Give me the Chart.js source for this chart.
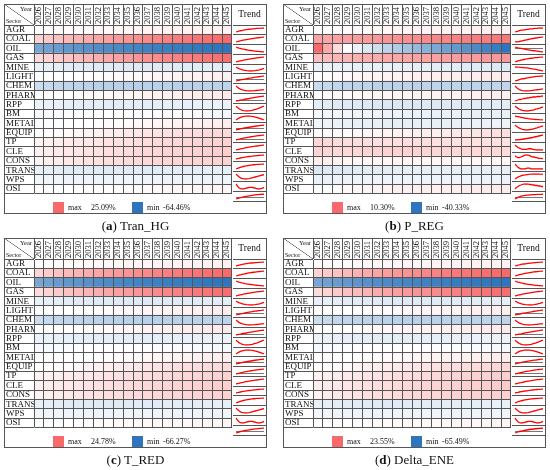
<!DOCTYPE html>
<html>
<head>
<meta charset="utf-8">
<script src="https://cdn.jsdelivr.net/npm/chart.js@4.4.1/dist/chart.umd.min.js"></script>
<style>
  body { margin: 0; background: #fff; font-family: "Liberation Serif", "Times New Roman", serif; color: #111; }
  #page { position: relative; width: 550px; height: 470px; overflow: hidden; }
  .panel { position: absolute; width: 263px; height: 240px; }
  .panel canvas { position: absolute; }
  .frame { position: absolute; left: 0; top: 0; width: 263px; height: 210px; border: 1px solid #555; box-sizing: border-box; }
  .corner { position: absolute; left: 0; top: 0; width: 30px; height: 21px;
    background: linear-gradient(to top right, transparent calc(50% - 0.6px), #555 50%, transparent calc(50% + 0.6px)); }
  .corner .yr { position: absolute; right: 2px; top: 1px; font-size: 6.5px; }
  .corner .sc { position: absolute; left: 2px; bottom: 1px; font-size: 6px; }
  .trendHead { position: absolute; left: 229px; top: 0; width: 33px; height: 21px; line-height: 21px; text-align: center; font-size: 9.5px; }
  .hline { position: absolute; left: 229px; width: 33px; height: 1px; background: #555; }
  .legend { position: absolute; left: 1px; top: 198px; width: 261px; height: 11px; font-size: 8px; line-height: 11px; }
  .legend span { position: absolute; top: 0; }
  .legend .sw { width: 11px; height: 11px; }
  .caption { position: absolute; left: 0; top: 213px; width: 263px; text-align: center; font-size: 13px; line-height: 18px; }
</style>
</head>
<body>
<div id="page"></div>
<script>
// 年份与部门
const years = ['2026', '2027', '2028', '2029', '2030', '2031', '2032', '2033', '2034', '2035',
               '2036', '2037', '2038', '2039', '2040', '2041', '2042', '2043', '2044', '2045'];
const sectors = ['AGR', 'COAL', 'OIL', 'GAS', 'MINE', 'LIGHT', 'CHEM', 'PHARM', 'RPP', 'BM',
                 'METAL', 'EQUIP', 'TP', 'CLE', 'CONS', 'TRANS', 'WPS', 'OSI'];
const panelTags = ['a', 'b', 'c', 'd'];
const panelNames = ['Tran_HG', 'P_REG', 'T_RED', 'Delta_ENE'];

// (a) Tran_HG, % change by sector (rows follow sectors)
const tranHG = [
  [0.3, 0.5, 0.7, 0.9, 1.0, 1.2, 1.3, 1.4, 1.5, 1.6, 1.7, 1.8, 1.8, 1.9, 2.0, 2.0, 2.1, 2.1, 2.2, 2.2],
  [7.5, 9.0, 10.4, 11.7, 12.9, 14.0, 15.1, 16.1, 17.0, 17.9, 18.8, 19.6, 20.4, 21.1, 21.8, 22.5, 23.2, 23.9, 24.5, 25.09],
  [-42.0, -44.5, -46.6, -48.5, -50.2, -51.7, -53.1, -54.4, -55.6, -56.7, -57.7, -58.7, -59.6, -60.4, -61.2, -61.9, -62.6, -63.3, -63.9, -64.46],
  [6.0, 7.4, 8.8, 10.1, 11.3, 12.5, 13.6, 14.7, 15.7, 16.7, 17.6, 18.5, 19.3, 20.1, 20.9, 21.6, 22.3, 23.0, 23.6, 24.2],
  [-7.0, -7.6, -8.1, -8.5, -8.8, -9.1, -9.3, -9.5, -9.6, -9.7, -9.7, -9.7, -9.6, -9.5, -9.3, -9.1, -8.9, -8.6, -8.3, -8.0],
  [-0.8, -0.6, -0.3, -0.1, 0.1, 0.3, 0.5, 0.7, 0.9, 1.1, 1.2, 1.4, 1.6, 1.8, 1.9, 2.1, 2.2, 2.4, 2.5, 2.6],
  [-16.0, -17.5, -18.7, -19.6, -20.3, -20.8, -21.2, -21.5, -21.7, -21.8, -21.8, -21.7, -21.6, -21.4, -21.2, -21.0, -20.8, -20.6, -20.4, -20.2],
  [-0.5, -0.3, -0.1, 0.2, 0.4, 0.6, 0.9, 1.1, 1.3, 1.5, 1.8, 2.0, 2.2, 2.4, 2.6, 2.8, 3.0, 3.2, 3.3, 3.5],
  [-6.0, -6.6, -7.1, -7.5, -7.8, -8.0, -8.1, -8.2, -8.2, -8.1, -8.0, -7.9, -7.7, -7.5, -7.3, -7.0, -6.8, -6.5, -6.2, -5.9],
  [-3.0, -2.4, -1.9, -1.5, -1.2, -1.0, -0.8, -0.7, -0.7, -0.7, -0.8, -0.9, -1.1, -1.3, -1.5, -1.8, -2.1, -2.4, -2.7, -3.0],
  [-1.2, -0.9, -0.6, -0.3, -0.1, 0.2, 0.4, 0.6, 0.8, 1.0, 1.2, 1.4, 1.6, 1.8, 2.0, 2.1, 2.3, 2.5, 2.6, 2.8],
  [-0.5, 0.0, 0.5, 1.0, 1.5, 2.0, 2.4, 2.8, 3.2, 3.6, 4.0, 4.3, 4.6, 4.9, 5.2, 5.5, 5.7, 6.0, 6.2, 6.4],
  [2.0, 2.4, 2.8, 3.2, 3.6, 3.9, 4.3, 4.6, 4.9, 5.2, 5.5, 5.8, 6.0, 6.3, 6.5, 6.7, 7.0, 7.2, 7.4, 7.6],
  [2.5, 3.0, 3.5, 3.9, 4.3, 4.7, 5.0, 5.4, 5.7, 6.0, 6.3, 6.5, 6.8, 7.0, 7.2, 7.4, 7.6, 7.8, 8.0, 8.1],
  [2.0, 2.7, 3.3, 3.8, 4.3, 4.7, 5.1, 5.4, 5.7, 6.0, 6.2, 6.4, 6.6, 6.8, 6.9, 7.0, 7.1, 7.2, 7.3, 7.4],
  [-7.0, -7.8, -8.4, -8.9, -9.2, -9.4, -9.5, -9.5, -9.4, -9.3, -9.1, -8.9, -8.7, -8.5, -8.3, -8.1, -7.9, -7.7, -7.5, -7.3],
  [-4.0, -4.5, -4.9, -5.1, -5.2, -5.2, -5.1, -5.0, -4.9, -4.8, -4.8, -4.8, -4.9, -5.0, -5.1, -5.2, -5.2, -5.1, -5.0, -4.8],
  [-0.6, -0.4, -0.2, 0.0, 0.1, 0.3, 0.4, 0.5, 0.6, 0.7, 0.8, 0.9, 1.0, 1.1, 1.2, 1.2, 1.3, 1.4, 1.4, 1.5]
];

// (b) P_REG
const pReg = [
  [0.1, 0.2, 0.3, 0.4, 0.5, 0.5, 0.6, 0.6, 0.7, 0.7, 0.8, 0.8, 0.8, 0.9, 0.9, 0.9, 1.0, 1.0, 1.0, 1.0],
  [6.4, 6.2, 6.3, 6.5, 6.7, 6.9, 7.1, 7.3, 7.5, 7.7, 7.9, 8.1, 8.3, 8.4, 8.6, 8.7, 8.9, 9.0, 9.1, 9.2],
  [10.30, 6.0, 2.4, -0.8, -3.8, -6.8, -9.7, -12.5, -15.2, -17.9, -20.5, -23.0, -25.4, -27.7, -29.9, -32.1, -34.2, -36.3, -38.3, -40.33],
  [4.3, 4.6, 4.9, 5.1, 5.3, 5.5, 5.7, 5.9, 6.0, 6.2, 6.3, 6.4, 6.5, 6.6, 6.7, 6.8, 6.9, 7.0, 7.0, 7.1],
  [-4.0, -4.0, -4.1, -4.1, -4.2, -4.3, -4.4, -4.5, -4.6, -4.7, -4.9, -5.0, -5.2, -5.3, -5.5, -5.7, -5.9, -6.1, -6.3, -6.5],
  [0.2, 0.3, 0.4, 0.5, 0.6, 0.7, 0.7, 0.8, 0.9, 0.9, 1.0, 1.0, 1.1, 1.1, 1.2, 1.2, 1.2, 1.3, 1.3, 1.3],
  [-10.5, -11.2, -11.8, -12.2, -12.5, -12.7, -12.8, -12.9, -12.9, -12.9, -12.8, -12.7, -12.6, -12.5, -12.4, -12.3, -12.2, -12.1, -12.0, -11.9],
  [0.1, 0.2, 0.3, 0.4, 0.4, 0.5, 0.6, 0.6, 0.7, 0.7, 0.8, 0.8, 0.9, 0.9, 0.9, 1.0, 1.0, 1.0, 1.1, 1.1],
  [-5.0, -5.4, -5.8, -6.1, -6.3, -6.5, -6.6, -6.7, -6.7, -6.7, -6.6, -6.5, -6.4, -6.3, -6.1, -6.0, -5.8, -5.7, -5.5, -5.4],
  [-2.0, -2.2, -2.4, -2.6, -2.8, -3.0, -3.2, -3.4, -3.5, -3.7, -3.8, -3.9, -4.0, -4.1, -4.2, -4.3, -4.3, -4.4, -4.4, -4.5],
  [-3.0, -3.4, -3.7, -4.0, -4.2, -4.4, -4.5, -4.6, -4.6, -4.6, -4.5, -4.4, -4.3, -4.2, -4.0, -3.9, -3.7, -3.6, -3.4, -3.3],
  [0.2, 0.2, 0.3, 0.3, 0.4, 0.5, 0.6, 0.7, 0.8, 0.9, 1.0, 1.1, 1.2, 1.4, 1.5, 1.6, 1.8, 1.9, 2.1, 2.2],
  [2.8, 2.6, 2.4, 2.3, 2.2, 2.1, 2.1, 2.1, 2.1, 2.2, 2.2, 2.2, 2.1, 2.1, 2.0, 2.0, 2.0, 2.0, 2.0, 2.0],
  [3.0, 2.8, 2.7, 2.7, 2.8, 2.9, 3.0, 3.1, 3.1, 3.1, 3.0, 2.9, 2.8, 2.8, 2.7, 2.7, 2.6, 2.6, 2.6, 2.5],
  [1.2, 1.0, 0.8, 0.7, 0.6, 0.6, 0.6, 0.6, 0.7, 0.7, 0.7, 0.6, 0.6, 0.6, 0.6, 0.6, 0.6, 0.6, 0.6, 0.6],
  [-7.0, -6.5, -6.1, -5.8, -5.5, -5.3, -5.1, -5.0, -4.9, -4.8, -4.7, -4.7, -4.6, -4.6, -4.6, -4.6, -4.6, -4.7, -4.7, -4.7],
  [-4.0, -3.7, -3.5, -3.3, -3.2, -3.1, -3.0, -3.0, -3.0, -3.0, -3.1, -3.1, -3.2, -3.2, -3.3, -3.3, -3.4, -3.4, -3.5, -3.5],
  [-0.4, -0.1, 0.2, 0.4, 0.6, 0.7, 0.8, 0.9, 1.0, 1.0, 1.1, 1.1, 1.2, 1.2, 1.2, 1.3, 1.3, 1.3, 1.3, 1.4]
];

// (c) T_RED
const tRed = [
  [0.2, 0.4, 0.6, 0.8, 1.0, 1.1, 1.3, 1.4, 1.5, 1.6, 1.7, 1.7, 1.8, 1.9, 1.9, 2.0, 2.0, 2.1, 2.1, 2.2],
  [7.0, 8.6, 10.0, 11.4, 12.6, 13.8, 14.9, 15.9, 16.9, 17.8, 18.7, 19.5, 20.3, 21.0, 21.7, 22.4, 23.0, 23.6, 24.2, 24.78],
  [-43.0, -45.6, -47.8, -49.8, -51.6, -53.2, -54.7, -56.0, -57.2, -58.3, -59.3, -60.3, -61.2, -62.0, -62.8, -63.5, -64.2, -64.9, -65.6, -66.27],
  [5.8, 7.2, 8.6, 9.9, 11.1, 12.3, 13.4, 14.5, 15.5, 16.5, 17.4, 18.3, 19.1, 19.9, 20.6, 21.3, 22.0, 22.7, 23.3, 23.9],
  [-7.2, -7.8, -8.3, -8.7, -9.0, -9.3, -9.5, -9.7, -9.8, -9.9, -9.9, -9.9, -9.8, -9.7, -9.5, -9.3, -9.1, -8.8, -8.5, -8.2],
  [-0.9, -0.6, -0.4, -0.1, 0.1, 0.3, 0.5, 0.7, 0.9, 1.1, 1.3, 1.4, 1.6, 1.8, 1.9, 2.1, 2.2, 2.3, 2.5, 2.6],
  [-16.5, -18.0, -19.2, -20.1, -20.8, -21.3, -21.7, -22.0, -22.2, -22.3, -22.3, -22.2, -22.1, -21.9, -21.7, -21.5, -21.3, -21.1, -20.9, -20.7],
  [-0.6, -0.3, -0.1, 0.1, 0.4, 0.6, 0.8, 1.0, 1.3, 1.5, 1.7, 1.9, 2.1, 2.3, 2.5, 2.7, 2.9, 3.1, 3.2, 3.4],
  [-6.2, -6.8, -7.3, -7.7, -8.0, -8.2, -8.3, -8.4, -8.4, -8.3, -8.2, -8.1, -7.9, -7.7, -7.5, -7.2, -7.0, -6.7, -6.4, -6.1],
  [-3.2, -2.6, -2.1, -1.7, -1.4, -1.2, -1.0, -0.9, -0.9, -0.9, -1.0, -1.1, -1.3, -1.5, -1.7, -2.0, -2.3, -2.6, -2.9, -3.2],
  [-1.3, -1.0, -0.7, -0.4, -0.2, 0.1, 0.3, 0.5, 0.7, 0.9, 1.1, 1.3, 1.5, 1.7, 1.9, 2.0, 2.2, 2.4, 2.5, 2.7],
  [-0.6, -0.1, 0.4, 0.9, 1.4, 1.9, 2.3, 2.7, 3.1, 3.5, 3.9, 4.2, 4.5, 4.8, 5.1, 5.4, 5.6, 5.9, 6.1, 6.3],
  [1.9, 2.3, 2.7, 3.1, 3.5, 3.8, 4.2, 4.5, 4.8, 5.1, 5.4, 5.7, 5.9, 6.2, 6.4, 6.6, 6.9, 7.1, 7.3, 7.5],
  [2.4, 2.9, 3.4, 3.8, 4.2, 4.6, 4.9, 5.3, 5.6, 5.9, 6.2, 6.4, 6.7, 6.9, 7.1, 7.3, 7.5, 7.7, 7.9, 8.0],
  [1.9, 2.6, 3.2, 3.7, 4.2, 4.6, 5.0, 5.3, 5.6, 5.9, 6.1, 6.3, 6.5, 6.7, 6.8, 6.9, 7.0, 7.1, 7.2, 7.3],
  [-7.2, -8.0, -8.6, -9.1, -9.4, -9.6, -9.7, -9.7, -9.6, -9.5, -9.3, -9.1, -8.9, -8.7, -8.5, -8.3, -8.1, -7.9, -7.7, -7.5],
  [-4.1, -4.6, -5.0, -5.2, -5.3, -5.3, -5.2, -5.1, -5.0, -4.9, -4.9, -4.9, -5.0, -5.1, -5.2, -5.3, -5.3, -5.2, -5.1, -4.9],
  [-0.7, -0.5, -0.3, -0.1, 0.1, 0.2, 0.4, 0.5, 0.6, 0.7, 0.8, 0.9, 1.0, 1.1, 1.1, 1.2, 1.3, 1.3, 1.4, 1.5]
];

// (d) Delta_ENE
const deltaEne = [
  [0.3, 0.5, 0.7, 0.8, 1.0, 1.1, 1.2, 1.3, 1.4, 1.5, 1.6, 1.6, 1.7, 1.8, 1.8, 1.9, 1.9, 2.0, 2.0, 2.1],
  [6.8, 8.3, 9.7, 11.0, 12.2, 13.3, 14.4, 15.4, 16.3, 17.2, 18.0, 18.8, 19.6, 20.3, 21.0, 21.6, 22.2, 22.8, 23.2, 23.55],
  [-42.5, -45.0, -47.2, -49.1, -50.9, -52.5, -54.0, -55.3, -56.5, -57.6, -58.7, -59.6, -60.5, -61.4, -62.2, -62.9, -63.6, -64.3, -64.9, -65.49],
  [5.5, 6.9, 8.2, 9.5, 10.7, 11.8, 12.9, 13.9, 14.9, 15.8, 16.7, 17.5, 18.3, 19.1, 19.8, 20.5, 21.2, 21.8, 22.4, 23.0],
  [-7.0, -7.5, -8.0, -8.4, -8.7, -8.9, -9.1, -9.3, -9.4, -9.5, -9.5, -9.5, -9.4, -9.3, -9.1, -8.9, -8.7, -8.5, -8.2, -7.9],
  [-0.7, -0.5, -0.3, -0.1, 0.1, 0.3, 0.5, 0.7, 0.8, 1.0, 1.2, 1.3, 1.5, 1.7, 1.8, 2.0, 2.1, 2.2, 2.4, 2.5],
  [-15.8, -17.2, -18.4, -19.3, -20.0, -20.5, -20.9, -21.2, -21.4, -21.5, -21.5, -21.4, -21.3, -21.1, -20.9, -20.7, -20.5, -20.3, -20.1, -19.9],
  [-0.4, -0.2, 0.0, 0.2, 0.4, 0.7, 0.9, 1.1, 1.3, 1.5, 1.7, 1.9, 2.1, 2.3, 2.5, 2.7, 2.8, 3.0, 3.2, 3.3],
  [-5.9, -6.5, -7.0, -7.4, -7.7, -7.9, -8.0, -8.1, -8.1, -8.0, -7.9, -7.8, -7.6, -7.4, -7.2, -6.9, -6.7, -6.4, -6.1, -5.8],
  [-2.9, -2.3, -1.8, -1.4, -1.1, -0.9, -0.7, -0.6, -0.6, -0.6, -0.7, -0.8, -1.0, -1.2, -1.4, -1.7, -2.0, -2.3, -2.6, -2.9],
  [-1.1, -0.8, -0.5, -0.2, 0.0, 0.3, 0.5, 0.7, 0.9, 1.1, 1.3, 1.5, 1.7, 1.9, 2.0, 2.2, 2.4, 2.5, 2.7, 2.8],
  [-0.4, 0.1, 0.6, 1.1, 1.6, 2.0, 2.5, 2.9, 3.3, 3.7, 4.0, 4.4, 4.7, 5.0, 5.3, 5.5, 5.8, 6.0, 6.3, 6.5],
  [2.1, 2.5, 2.9, 3.3, 3.6, 4.0, 4.3, 4.7, 5.0, 5.3, 5.6, 5.8, 6.1, 6.3, 6.6, 6.8, 7.0, 7.2, 7.4, 7.6],
  [2.6, 3.1, 3.5, 4.0, 4.4, 4.7, 5.1, 5.4, 5.7, 6.0, 6.3, 6.6, 6.8, 7.0, 7.3, 7.5, 7.6, 7.8, 8.0, 8.2],
  [2.1, 2.8, 3.4, 3.9, 4.3, 4.7, 5.1, 5.4, 5.7, 5.9, 6.2, 6.4, 6.5, 6.7, 6.8, 6.9, 7.0, 7.1, 7.2, 7.3],
  [-6.8, -7.6, -8.2, -8.7, -9.0, -9.2, -9.3, -9.3, -9.2, -9.1, -8.9, -8.7, -8.5, -8.3, -8.1, -7.9, -7.7, -7.5, -7.3, -7.1],
  [-3.9, -4.4, -4.8, -5.0, -5.1, -5.1, -5.0, -4.9, -4.8, -4.7, -4.7, -4.7, -4.8, -4.9, -5.0, -5.1, -5.1, -5.0, -4.9, -4.7],
  [-0.5, -0.3, -0.1, 0.1, 0.2, 0.3, 0.5, 0.6, 0.7, 0.8, 0.9, 1.0, 1.0, 1.1, 1.2, 1.3, 1.3, 1.4, 1.4, 1.5]
];

const panelData = [tranHG, pReg, tRed, deltaEne];
const panelPos = [[4, 4], [283, 4], [4, 238], [283, 238]];

const LINE = '#555';
const RED = [248, 105, 107];
const BLUE = [46, 117, 189];
const YEAR_FONT = 8.5;

Chart.defaults.font.family = '"Liberation Serif", "Times New Roman", serif';
Chart.defaults.color = '#111';

// 三色刻度：蓝 - 白 - 红
function cellColor(v, hi, lo) {
    const c = v >= 0 ? RED : BLUE;
    const t = v >= 0 ? v / hi : v / lo;
    const m = k => Math.round(255 + (c[k] - 255) * t);
    return `rgb(${m(0)}, ${m(1)}, ${m(2)})`;
}

function drawHeat(canvas, rows, hi, lo) {
    const datasets = years.map((yr, j) => ({
        label: yr,
        data: rows.map(() => 1),
        backgroundColor: rows.map(r => cellColor(r[j], hi, lo)),
        borderWidth: 0,
        barPercentage: 1,
        categoryPercentage: 1,
        xAxisID: 'x',
        yAxisID: 'y'
    }));

    return new Chart(canvas, {
        type: 'bar',
        data: { labels: sectors, datasets: datasets },
        options: {
            indexAxis: 'y',
            responsive: false,
            animation: false,
            devicePixelRatio: 1,
            events: [],
            layout: { padding: { left: 2, right: 1, top: 0, bottom: 1 } },
            plugins: { legend: { display: false }, tooltip: { enabled: false } },
            scales: {
                x: { type: 'linear', display: false, stacked: true, min: 0, max: 20 },
                xt: {
                    type: 'category',
                    labels: years,
                    position: 'top',
                    offset: true,
                    grid: { offset: true, color: LINE, tickLength: 21, z: 1 },
                    border: { color: LINE },
                    ticks: {
                        autoSkip: false, minRotation: 90, maxRotation: 90,
                        padding: -20, labelOffset: YEAR_FONT * 1.2,
                        font: { size: YEAR_FONT }
                    },
                    afterFit: s => { s.height = 21; }
                },
                y: {
                    stacked: true,
                    grid: { offset: true, color: LINE, tickLength: 30, z: 1 },
                    border: { color: LINE },
                    ticks: { autoSkip: false, crossAlign: 'far', font: { size: 9 } },
                    afterFit: s => { s.width = 28; }
                }
            }
        }
    });
}

// 趋势小图 (sparkline)
function drawTrend(canvas, row) {
    return new Chart(canvas, {
        type: 'line',
        data: {
            labels: years,
            datasets: [{ data: row, borderColor: '#ff0000', borderWidth: 1.3, pointRadius: 0, tension: 0 }]
        },
        options: {
            responsive: false,
            animation: false,
            devicePixelRatio: 1,
            events: [],
            layout: { padding: { left: 3, right: 2, top: 2, bottom: 2 } },
            plugins: { legend: { display: false }, tooltip: { enabled: false } },
            scales: {
                x: { display: false },
                y: {
                    bounds: 'data',
                    grid: { color: '#777', lineWidth: 1, drawTicks: false },
                    border: { display: false },
                    ticks: { display: false },
                    afterBuildTicks: s => { s.ticks = (s.min < 0 && s.max > 0) ? [{ value: 0 }] : []; }
                }
            }
        }
    });
}

const page = document.getElementById('page');
const rowH = 176 / sectors.length;
const lineY = i => Math.round(21 + i * rowH - 0.5);

panelData.forEach((rows, p) => {
    const [px, py] = panelPos[p];
    const flat = rows.flat();
    const hi = Math.max(...flat);
    const lo = Math.min(...flat);

    const el = document.createElement('div');
    el.className = 'panel';
    el.style.left = px + 'px';
    el.style.top = py + 'px';
    page.appendChild(el);

    const heat = document.createElement('canvas');
    heat.width = 229;
    heat.height = 198;
    heat.style.left = '0px';
    heat.style.top = '0px';
    el.appendChild(heat);
    drawHeat(heat, rows, hi, lo);

    el.insertAdjacentHTML('beforeend',
        '<div class="frame"></div>' +
        '<div class="corner"><span class="yr">Year</span><span class="sc">Sector</span></div>' +
        '<div class="trendHead">Trend</div>');

    for (let i = 0; i <= sectors.length; i++) {
        const hl = document.createElement('div');
        hl.className = 'hline';
        hl.style.top = lineY(i) + 'px';
        el.appendChild(hl);
    }

    rows.forEach((row, i) => {
        const c = document.createElement('canvas');
        const top = lineY(i) + 1;
        c.width = 33;
        c.height = lineY(i + 1) - top;
        c.style.left = '229px';
        c.style.top = top + 'px';
        el.appendChild(c);
        drawTrend(c, row);
    });

    const fmt = v => v.toFixed(2) + '%';
    el.insertAdjacentHTML('beforeend',
        '<div class="legend">' +
        `<span class="sw" style="left:48px;background:rgb(${RED.join(',')})"></span>` +
        '<span style="left:63px">max</span>' +
        `<span style="left:86px">${fmt(hi)}</span>` +
        `<span class="sw" style="left:127px;background:rgb(${BLUE.join(',')})"></span>` +
        '<span style="left:142px">min</span>' +
        `<span style="left:158px">${fmt(lo)}</span>` +
        '</div>' +
        `<div class="caption">(<b>${panelTags[p]}</b>) ${panelNames[p]}</div>`);
});
</script>
</body>
</html>
